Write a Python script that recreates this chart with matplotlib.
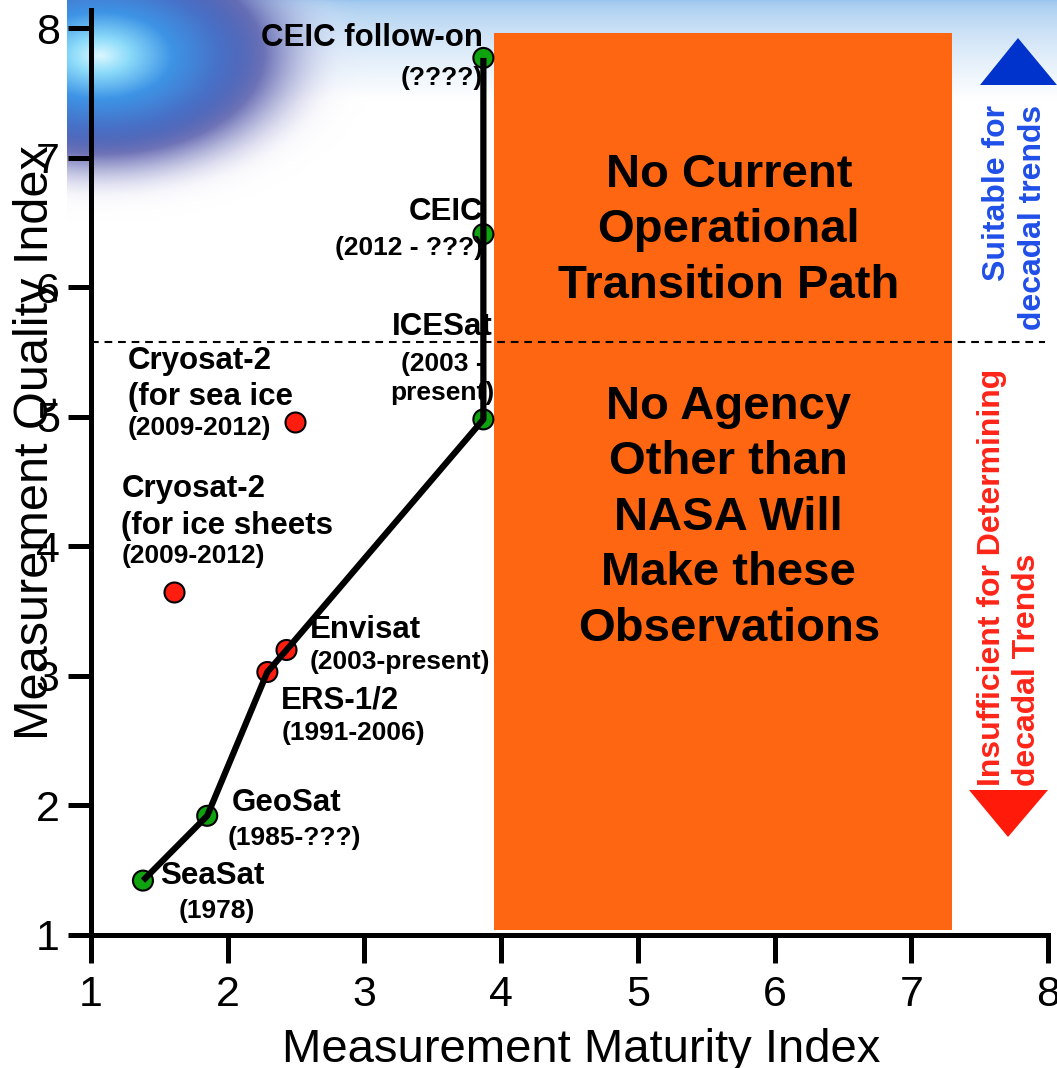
import numpy as np
import matplotlib
matplotlib.use('Agg')
import matplotlib.pyplot as plt
from matplotlib.patches import Rectangle, Polygon

plt.rcParams['font.family'] = ['Liberation Sans', 'DejaVu Sans']

# altimetry missions along the transition path
path_names = ['SeaSat', 'GeoSat', 'ERS-1/2', 'Envisat', 'ICESat', 'CEIC', 'CEIC follow-on']
path_years = ['(1978)', '(1985-???)', '(1991-2006)', '(2003-present)',
              '(2003 -\npresent)', '(2012 - ???)', '(????)']
path_maturity = [1.38, 1.85, 2.29, 2.43, 3.87, 3.87, 3.87]
path_quality = [1.42, 1.92, 3.03, 3.20, 4.98, 6.41, 7.77]
path_ok = [True, True, False, False, True, True, True]

# Cryosat-2 sits off the path
cryo_names = ['Cryosat-2\n(for sea ice', 'Cryosat-2\n(for ice sheets']
cryo_years = ['(2009-2012)', '(2009-2012)']
cryo_maturity = [2.49, 1.61]
cryo_quality = [4.96, 3.65]

decadal_threshold = 5.58
gap_maturity = (3.95, 7.30)
gap_quality = (1.04, 7.96)

ticks = [1, 2, 3, 4, 5, 6, 7, 8]

GREEN = '#0fa30f'
RED = '#ff1d10'
ORANGE = '#ff6611'

W, H = 1057, 1068
fig = plt.figure(figsize=(W / 100, H / 100), dpi=100)

# slide background: pale blue band at the top and a blue glow in the corner
yy, xx = np.mgrid[0:H, 0:W].astype(float)
s = np.clip(yy / 100.0, 0, 1) ** 0.6
top = np.array([0.60, 0.77, 0.93])
bg = top[None, None, :] * (1 - s[..., None]) + s[..., None]
r = np.sqrt(((xx - 100) / 240.0) ** 2 + ((yy - 55) / 145.0) ** 2)
stops = [0.0, 0.12, 0.30, 0.50, 0.68, 1.0]
glow = np.dstack([
    np.interp(r, stops, [0.86, 0.55, 0.24, 0.28, 0.36, 0.88]),
    np.interp(r, stops, [0.97, 0.86, 0.58, 0.44, 0.38, 0.88]),
    np.interp(r, stops, [1.00, 0.98, 0.90, 0.78, 0.68, 0.96]),
])
t = np.clip((r - 0.55) / 0.6, 0, 1)
alpha = (1 - t * t * (3 - 2 * t))[..., None]
bg = glow * alpha + bg * (1 - alpha)
bg[:, :67, :] = 1.0
fig.figimage(np.clip(bg, 0, 1), zorder=-1)

ax = fig.add_axes([91 / W, 1 - 935 / H, (1048 - 91) / W, (935 - 10) / H])
ax.set_facecolor('none')
ax.set_xlim(1, 8)
ax.set_ylim(1, 8.14)

for side in ['top', 'right']:
    ax.spines[side].set_visible(False)
for side in ['left', 'bottom']:
    ax.spines[side].set_linewidth(3.6)
ax.set_xticks(ticks)
ax.set_yticks(ticks)
ax.tick_params(axis='x', length=20, width=3.6, labelsize=31, pad=9)
ax.tick_params(axis='y', length=16.5, width=3.6, labelsize=31, pad=6)

ax.set_xlabel('Measurement Maturity Index', fontsize=34)
ax.xaxis.set_label_coords(0.512, -0.101)
ax.text(-0.0585, 0.532, 'Measurement Quality Index', transform=ax.transAxes,
        rotation=90, ha='center', va='center', fontsize=35)

# region with no operational follow-on
ax.add_patch(Rectangle((gap_maturity[0], gap_quality[0]),
                       gap_maturity[1] - gap_maturity[0],
                       gap_quality[1] - gap_quality[0],
                       facecolor=ORANGE, edgecolor='none', zorder=1))
gx = sum(gap_maturity) / 2 + 0.04
ax.text(gx, 6.44, 'No Current\nOperational\nTransition Path', ha='center', va='center',
        fontsize=34, fontweight='bold', linespacing=1.34, zorder=2)
ax.text(gx, 4.22, 'No Agency\nOther than\nNASA Will\nMake these\nObservations',
        ha='center', va='center', fontsize=34, fontweight='bold', linespacing=1.34, zorder=2)

ax.axhline(decadal_threshold, xmin=0, xmax=0.997, color='black', lw=1.5,
           linestyle=(0, (3.7, 2.8)), zorder=5, clip_on=False)

# path and markers
ax.plot(path_maturity, path_quality, color='black', lw=4.5, zorder=4,
        solid_capstyle='butt')
ax.scatter(path_maturity, path_quality, s=14.4 ** 2,
           c=[GREEN if ok else RED for ok in path_ok],
           edgecolors='black', linewidths=1.5, zorder=3)
ax.scatter(cryo_maturity, cryo_quality, s=14.4 ** 2, c=RED,
           edgecolors='black', linewidths=1.5, zorder=3)

# label offsets in pixels: (dx, dy, ha) for name and for years
path_layout = {
    'SeaSat': ((17, 5, 'left'), (74, -30, 'center')),
    'GeoSat': ((25, 13, 'left'), (20, -22, 'left')),
    'ERS-1/2': ((14, -28, 'left'), (14, -61, 'left')),
    'Envisat': ((23, 20, 'left'), (23, -12, 'left')),
    'ICESat': ((-41, 92, 'center'), (-41, 41, 'center')),
    'CEIC': ((0, 22, 'right'), (0, -14, 'right')),
    'CEIC follow-on': ((0, 20, 'right'), (0, -20, 'right')),
}
cryo_layout = [((-167, 43, 'left'), (-167, -6, 'left')),
               ((-53, 84, 'left'), (-53, 36, 'left'))]


def label(x, y, text, off, size):
    dx, dy, ha = off
    ax.annotate(text, (x, y), xytext=(dx, dy), textcoords='offset pixels',
                ha=ha, va='center', fontsize=size, fontweight='bold',
                linespacing=1.3, zorder=6, annotation_clip=False)


for name, yrs, x, y in zip(path_names, path_years, path_maturity, path_quality):
    main_off, sub_off = path_layout[name]
    label(x, y, name, main_off, 22.5)
    label(x, y, yrs, sub_off, 19)

for name, yrs, x, y, (main_off, sub_off) in zip(cryo_names, cryo_years, cryo_maturity,
                                                 cryo_quality, cryo_layout):
    label(x, y, name, main_off, 22.5)
    label(x, y, yrs, sub_off, 19)

# side notes with arrows
ax.text(0.9655, 0.776, 'Suitable for\ndecadal trends', transform=ax.transAxes,
        rotation=90, ha='center', va='center', multialignment='right',
        fontsize=23, fontweight='bold', color='#1f4fe8', linespacing=1.3)
ax.text(0.960, 0.387, 'Insufficient for Determining\ndecadal Trends', transform=ax.transAxes,
        rotation=90, ha='center', va='center', multialignment='left',
        fontsize=23, fontweight='bold', color='#ff2418', linespacing=1.2)


def px(points):
    return [(u / W, 1 - v / H) for u, v in points]


fig.patches.append(Polygon(px([(980, 85), (1057, 85), (1018, 38)]), closed=True,
                           transform=fig.transFigure, facecolor='#0033cc', edgecolor='none'))
fig.patches.append(Polygon(px([(969, 790), (1048, 790), (1008, 837)]), closed=True,
                           transform=fig.transFigure, facecolor='#ff1a0a', edgecolor='none'))

fig.savefig('out.png', dpi=100)
